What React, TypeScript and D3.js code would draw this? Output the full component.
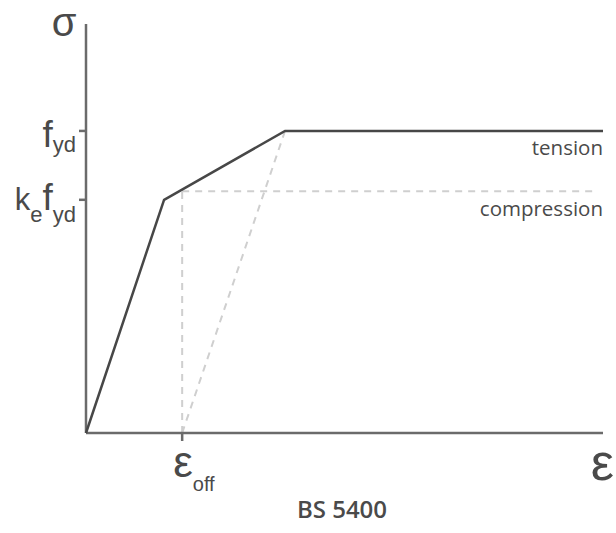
import React from "react";
import * as d3 from "d3";

// Strain (relative units) and stress (relative to f_yd)
const tensionStrain = [0, 15.1, 38.5, 100];
const tensionStress = [0, 0.772, 1, 1];
const compressionStrain = [18.6, 99];
const compressionStress = [0.8, 0.8];
const offsetStrain = [18.6, 38.5];
const offsetStress = [0, 1];
const offsetVertStrain = [18.6, 18.6];
const offsetVertStress = [0, 0.8];
const yTickValues = [1, 0.772];
const xTickValues = [18.6];
const seriesLabels = ["tension", "compression"];
const title = "BS 5400";

const W = 616;
const H = 533;
const left = 86;
const right = 603;
const bottom = 433;
const top = 24;

export default function App() {
  const x = d3.scaleLinear().domain([0, 100]).range([left, right]);
  const y = d3.scaleLinear().domain([0, 1.354]).range([bottom, top]);
  const line = (xs: number[], ys: number[]) =>
    d3.line<number>().x((d) => x(xs[d])).y((d) => y(ys[d]))(xs.map((_, i) => i)) || "";

  const axisColor = "#6b6b6b";
  const curveColor = "#474747";
  const dashColor = "#cfcfcf";
  const textColor = "#4a4a4a";
  const mathFont = "'Liberation Sans', Arial, sans-serif";
  const textFont = "'Open Sans', sans-serif";

  return (
    <svg width={W} height={H} style={{ position: "absolute", left: 0, top: 0, background: "#fff" }}>
      {/* dashed compression / offset lines */}
      <path d={line(offsetVertStrain, offsetVertStress)} fill="none" stroke={dashColor} strokeWidth={2} strokeDasharray="7 6" />
      <path d={line(offsetStrain, offsetStress)} fill="none" stroke={dashColor} strokeWidth={2} strokeDasharray="7 6" />
      <path d={line(compressionStrain, compressionStress)} fill="none" stroke={dashColor} strokeWidth={2} strokeDasharray="7 6" />
      {/* axes */}
      <line x1={left} x2={left} y1={top} y2={bottom} stroke={axisColor} strokeWidth={2.5} />
      <line x1={left} x2={right} y1={bottom} y2={bottom} stroke={axisColor} strokeWidth={2.5} />
      {yTickValues.map((v, i) => (
        <line key={"yt" + i} x1={left - 7} x2={left} y1={y(v)} y2={y(v)} stroke={axisColor} strokeWidth={2.5} />
      ))}
      {xTickValues.map((v, i) => (
        <line key={"xt" + i} x1={x(v)} x2={x(v)} y1={bottom} y2={bottom + 8} stroke={axisColor} strokeWidth={2.5} />
      ))}
      {/* tension curve */}
      <path d={line(tensionStrain, tensionStress)} fill="none" stroke={curveColor} strokeWidth={2.5} strokeLinejoin="miter" />
      {/* series labels */}
      <text x={right} y={y(1) + 24} textAnchor="end" fontFamily={textFont} fontWeight={500} fontSize={20.5} fill={textColor}>
        {seriesLabels[0]}
      </text>
      <text x={right} y={y(0.8) + 25} textAnchor="end" fontFamily={textFont} fontWeight={500} fontSize={20.5} fill={textColor}>
        {seriesLabels[1]}
      </text>
      {/* axis symbol labels */}
      <text x={64} y={36} textAnchor="middle" fontFamily={mathFont} fontSize={40} fill={textColor}>σ</text>
      <text x={614} y={480} textAnchor="end" fontFamily={mathFont} fontSize={52} fill={textColor}>ε</text>
      {/* y tick labels */}
      <text x={76} y={y(yTickValues[0]) + 16} textAnchor="end" fontFamily={mathFont} fill={textColor}>
        <tspan fontSize={37}>f</tspan>
        <tspan fontSize={22} dy={5}>yd</tspan>
      </text>
      <text x={76} y={y(yTickValues[1]) + 10} textAnchor="end" fontFamily={mathFont} fill={textColor}>
        <tspan fontSize={31}>k</tspan>
        <tspan fontSize={22} dy={12}>e</tspan>
        <tspan fontSize={37} dy={-12}>f</tspan>
        <tspan fontSize={22} dy={12}>yd</tspan>
      </text>
      {/* x tick label */}
      <text x={x(xTickValues[0]) - 9} y={477} textAnchor="start" fontFamily={mathFont} fill={textColor}>
        <tspan fontSize={44}>ε</tspan>
        <tspan fontSize={20} dy={14}>off</tspan>
      </text>
      {/* title */}
      <text x={342} y={518} textAnchor="middle" fontFamily={textFont} fontWeight={600} fontSize={24} fill={textColor}>
        {title}
      </text>
    </svg>
  );
}
